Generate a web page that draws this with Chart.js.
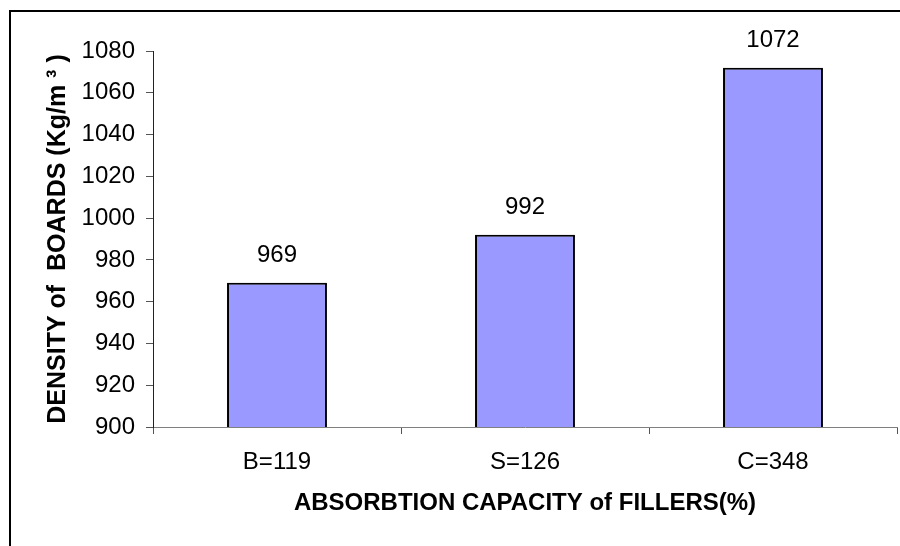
<!DOCTYPE html>
<html>
<head>
<meta charset="utf-8">
<script src="https://cdn.jsdelivr.net/npm/chart.js@4"></script>
<style>
  html, body { margin: 0; padding: 0; background: #ffffff; }
  #wrap { width: 900px; height: 546px; position: relative; }
</style>
</head>
<body>
<div id="wrap"><canvas id="chart" width="900" height="546"></canvas></div>
<script>
// Filler absorption capacity (categories) and resulting board density
const categories = ['B=119', 'S=126', 'C=348'];
const densities = [969, 992, 1072];
const yTicks = [900, 920, 940, 960, 980, 1000, 1020, 1040, 1060, 1080];

const FONT = '"Liberation Sans", Arial, sans-serif';

// Frame lines along the left and top of the figure
const framePlugin = {
  id: 'frame',
  beforeDraw(chart) {
    const ctx = chart.ctx;
    ctx.save();
    ctx.strokeStyle = '#000000';
    ctx.lineWidth = 2;
    ctx.beginPath();
    ctx.moveTo(10, 546);
    ctx.lineTo(10, 11);
    ctx.lineTo(900, 11);
    ctx.stroke();
    ctx.restore();
  }
};

// Value printed above each bar
const valueLabels = {
  id: 'valueLabels',
  afterDatasetsDraw(chart) {
    const ctx = chart.ctx;
    const meta = chart.getDatasetMeta(0);
    ctx.save();
    ctx.font = '24px ' + FONT;
    ctx.fillStyle = '#000000';
    ctx.textAlign = 'center';
    ctx.textBaseline = 'middle';
    meta.data.forEach((bar, i) => {
      ctx.fillText(String(chart.data.datasets[0].data[i]), bar.x, bar.y - 27);
    });
    ctx.restore();
  }
};

new Chart(document.getElementById('chart'), {
  type: 'bar',
  data: {
    labels: categories,
    datasets: [{
      data: densities,
      backgroundColor: '#9999ff',
      borderColor: '#000000',
      borderWidth: 2,
      borderSkipped: false,
      barPercentage: 0.403,
      categoryPercentage: 1.0
    }]
  },
  options: {
    responsive: false,
    animation: false,
    events: [],
    layout: { padding: { left: 0, right: 3, top: 51, bottom: 0 } },
    plugins: {
      legend: { display: false },
      tooltip: { enabled: false }
    },
    scales: {
      x: {
        offset: true,
        grid: {
          display: true,
          offset: true,
          drawOnChartArea: false,
          drawTicks: true,
          tickLength: 7,
          color: '#555555'
        },
        border: { display: true, color: '#808080', width: 1 },
        ticks: {
          color: '#000000',
          font: { family: FONT, size: 24 },
          padding: 14,
          maxRotation: 0
        },
        title: {
          display: true,
          text: 'ABSORBTION CAPACITY of FILLERS(%)',
          color: '#000000',
          font: { family: FONT, size: 24, weight: 'bold' },
          padding: { top: 0, bottom: 28 }
        },
        afterFit(scale) { scale.height = 119; }
      },
      y: {
        min: 900,
        max: 1080,
        afterBuildTicks(scale) { scale.ticks = yTicks.map(v => ({ value: v })); },
        grid: {
          display: true,
          drawOnChartArea: false,
          drawTicks: true,
          tickLength: 7,
          color: '#555555'
        },
        border: { display: true, color: '#222222', width: 1 },
        ticks: {
          color: '#000000',
          font: { family: FONT, size: 24 },
          padding: 11,
          callback: (value) => String(value)
        },
        title: {
          display: true,
          text: 'DENSITY of  BOARDS (Kg/m ³ )',
          color: '#000000',
          font: { family: FONT, size: 25, weight: 'bold' },
          padding: { top: 43, bottom: 0 }
        },
        afterFit(scale) { scale.width = 153; }
      }
    }
  },
  plugins: [framePlugin, valueLabels]
});
</script>
</body>
</html>
